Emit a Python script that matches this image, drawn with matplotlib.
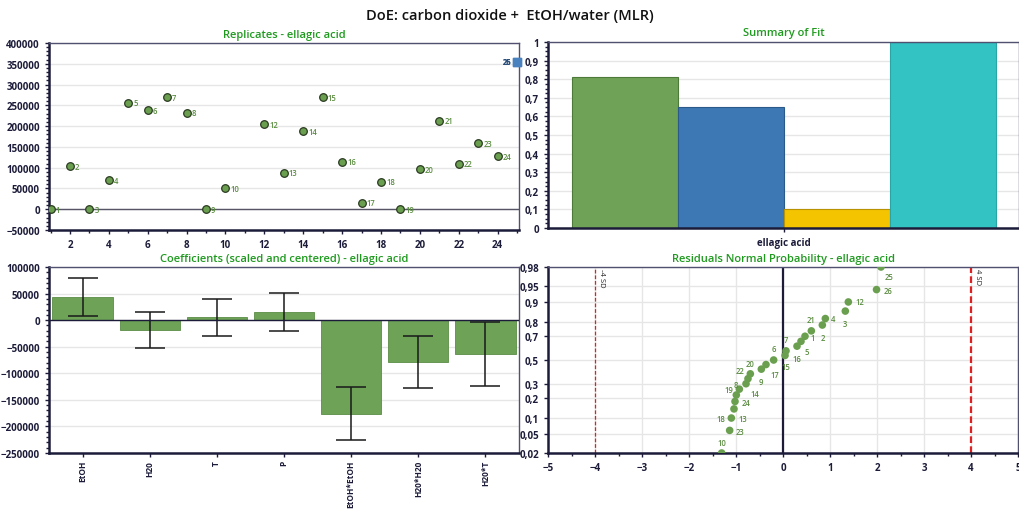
import matplotlib.pyplot as plt
from matplotlib.ticker import MultipleLocator, FuncFormatter, FixedLocator
from statistics import NormalDist
import numpy as np

plt.rcParams['font.family'] = ['Open Sans', 'DejaVu Sans']

# --- data ---
run_ids = [1, 2, 3, 4, 5, 6, 7, 8, 9, 10, 12, 13, 14, 15, 16, 17, 18, 19, 20, 21, 22, 23, 24]
run_values = [0, 104000, 0, 70000, 256000, 238000, 270000, 232000, 0, 50000,
              204000, 88000, 188000, 269000, 114000, 16000, 66000, 0, 96000,
              213000, 110000, 159000, 128000]
rep_ids = [25, 26]
rep_values = [355000, 355000]

fit_names = ['R2', 'Q2', 'Model validity', 'Reproducibility']
fit_values = [0.812, 0.649, 0.102, 1.0]
fit_colors = ['#6fa257', '#3d78b4', '#f5c400', '#33c3c3']
fit_edges = ['#4c7a38', '#2b5a8a', '#b89200', '#2aa5a5']

coef_names = ['EtOH', 'H20', 'T', 'P', 'EtOH*EtOH', 'H20*H20', 'H20*T']
coef_values = [43500, -18500, 5000, 14800, -176000, -78500, -63500]
coef_errors = [36000, 34000, 34000, 36000, 49500, 49500, 59500]

resid_ids = [10, 23, 18, 13, 24, 19, 8, 14, 22, 20, 9, 17, 6, 15, 7, 16, 5, 1, 21, 2, 4, 3, 12, 26, 25]
resid_values = [-1.305, -1.135, -1.099, -1.043, -1.021, -0.993, -0.929, -0.787, -0.745,
                -0.695, -0.461, -0.362, -0.199, 0.043, 0.064, 0.298, 0.383, 0.468,
                0.603, 0.837, 0.901, 1.326, 1.390, 1.990, 2.085]
# label offsets (pixels) for the normal probability plot
resid_offsets = {10: (0, 10), 23: (10, -1), 18: (-10, 0), 13: (9, -10), 24: (11, -1),
                 19: (-7, 5), 8: (-3, 5), 14: (9, -10), 22: (-8, 8), 20: (0, 10),
                 9: (0, -12), 17: (9, -10), 6: (0, 11), 15: (1, -11), 7: (0, 11),
                 16: (0, -12), 5: (6, -10), 1: (8, -1), 21: (0, 11), 2: (0, -12),
                 4: (8, 0), 3: (0, -12), 12: (11, 0), 26: (11, -1), 25: (8, -10)}

green = '#6a9f4f'
title_green = '#1f9a1f'
label_green = '#5a8c40'
dark = '#1c1c3a'
grid_c = '#e6e6e6'


def style_axes(ax):
    for s in ['left', 'bottom']:
        ax.spines[s].set_color(dark)
        ax.spines[s].set_linewidth(1.8)
    for s in ['top', 'right']:
        ax.spines[s].set_color('#505070')
        ax.spines[s].set_linewidth(1.0)
    ax.tick_params(which='both', colors=dark, labelsize=7, length=3, width=1)
    ax.tick_params(which='minor', length=2)
    for lab in ax.get_xticklabels() + ax.get_yticklabels():
        lab.set_fontweight('bold')
    ax.set_axisbelow(True)


fig = plt.figure(figsize=(10.19, 5.10), dpi=100)
W, H = 1019, 510


def add_ax(x0, y0, x1, y1):
    return fig.add_axes([x0 / W, (H - y1) / H, (x1 - x0) / W, (y1 - y0) / H])


fig.text(0.5, 1 - 16 / H, 'DoE: carbon dioxide +  EtOH/water (MLR)', ha='center', va='center',
         fontsize=10.5, fontweight='semibold', color='#111111')

# --- Replicates ---
ax1 = add_ax(49, 44, 519, 231)
ax1.axhline(0, color='#555566', lw=1, zorder=1)
ax1.scatter(run_ids, run_values, s=30, color=green, edgecolors='#2a3a20', linewidths=0.9, zorder=3)
for i, v in zip(run_ids, run_values):
    ax1.annotate(str(i), (i, v), xytext=(5, 0), textcoords='offset pixels', ha='left', va='center',
                 fontsize=5.5, color=label_green, fontweight='semibold')
# replicate runs 25 and 26 are drawn on the right edge (x = 25)
ax1.scatter([25] * len(rep_ids), rep_values, s=30, marker='s', color='#4a82c0', zorder=3, clip_on=False)
for i, v in zip(rep_ids, rep_values):
    ax1.text(24.72, v, str(i), ha='right', va='center', fontsize=5.5, color='#2b4f7a',
             fontweight='bold', zorder=5)
ax1.set_xlim(0.92, 25.1)
ax1.set_ylim(-50000, 400000)
ax1.xaxis.set_major_locator(MultipleLocator(2))
ax1.xaxis.set_minor_locator(MultipleLocator(1))
ax1.yaxis.set_major_locator(MultipleLocator(50000))
ax1.yaxis.set_minor_locator(MultipleLocator(10000))
ax1.yaxis.grid(True, color=grid_c, lw=1)
ax1.set_title('Replicates - ellagic acid', fontsize=8, color=title_green, fontweight='semibold', pad=4)
style_axes(ax1)

# --- Summary of Fit ---
ax2 = add_ax(548, 43, 1019, 229)
pos = np.arange(len(fit_values)) * 0.2 - 0.3
ax2.bar(pos, fit_values, width=0.2, color=fit_colors, edgecolor=fit_edges, linewidth=0.8, zorder=2)
ax2.set_xlim(-0.445, 0.443)
ax2.set_ylim(0, 1)
ax2.set_xticks([0])
ax2.set_xticklabels(['ellagic acid'])
ax2.yaxis.set_major_locator(MultipleLocator(0.1))
ax2.yaxis.set_minor_locator(MultipleLocator(0.025))
ax2.yaxis.set_major_formatter(FuncFormatter(lambda v, p: ('%g' % round(v, 2)).replace('.', ',')))
ax2.yaxis.grid(True, color=grid_c, lw=1)
ax2.set_title('Summary of Fit', fontsize=8, color=title_green, fontweight='semibold', pad=5)
style_axes(ax2)

# --- Coefficients ---
ax3 = add_ax(49, 268, 519, 454)
xc = np.arange(len(coef_names))
ax3.bar(xc, coef_values, width=0.9, color='#6ea256', edgecolor='#5a8c45', linewidth=0.6, zorder=2)
ax3.errorbar(xc, coef_values, yerr=coef_errors, fmt='none', ecolor='#1a1a1a', elinewidth=1.1,
             capsize=10.5, capthick=1.1, zorder=3)
ax3.axhline(0, color=dark, lw=1, zorder=4)
ax3.set_xlim(-0.5, 6.5)
ax3.set_ylim(-250000, 100000)
ax3.set_xticks(xc)
ax3.set_xticklabels(coef_names, rotation=90)
ax3.yaxis.set_major_locator(MultipleLocator(50000))
ax3.yaxis.set_minor_locator(MultipleLocator(10000))
ax3.yaxis.grid(True, color=grid_c, lw=1)
ax3.set_title('Coefficients (scaled and centered) - ellagic acid', fontsize=8, color=title_green,
              fontweight='semibold', pad=4)
style_axes(ax3)
ax3.tick_params(axis='x', labelsize=6, pad=2)

# --- Residuals Normal Probability ---
ax4 = add_ax(548, 268, 1018, 454)
nd = NormalDist()
n = len(resid_values)
order = np.argsort(resid_values)
probs = np.empty(n)
probs[order] = (np.arange(n) + 0.5) / n
zvals = [nd.inv_cdf(p) for p in probs]
ax4.scatter(resid_values, zvals, s=30, color=green, edgecolors='none', zorder=3)
for i, xv, zv in zip(resid_ids, resid_values, zvals):
    dx, dy = resid_offsets[i]
    ax4.annotate(str(i), (xv, zv), xytext=(dx, dy), textcoords='offset pixels', ha='center',
                 va='center', fontsize=5.5, color=label_green, fontweight='semibold')
ax4.axvline(0, color=dark, lw=1.6, zorder=2)
ax4.axvline(-4, color='#e02020', lw=0.9, ls=(0, (3, 1.5)), zorder=2)
ax4.axvline(4, color='#e02020', lw=1.6, ls=(0, (3, 1.5)), zorder=2)
ax4.text(-3.93, 2.03, '-4 SD', rotation=-90, fontsize=5.5, va='top', ha='left', color='#222222')
ax4.text(4.07, 2.03, '4 SD', rotation=-90, fontsize=5.5, va='top', ha='left', color='#222222')
prob_ticks = [0.02, 0.05, 0.1, 0.2, 0.3, 0.5, 0.7, 0.8, 0.9, 0.95, 0.98]
ax4.yaxis.set_major_locator(FixedLocator([nd.inv_cdf(p) for p in prob_ticks]))
ax4.set_yticklabels([('%g' % p).replace('.', ',') for p in prob_ticks])
ax4.set_ylim(nd.inv_cdf(0.02), nd.inv_cdf(0.98))
ax4.set_xlim(-5, 5)
ax4.xaxis.set_major_locator(MultipleLocator(1))
ax4.xaxis.set_minor_locator(MultipleLocator(0.5))
ax4.grid(True, color=grid_c, lw=1)
ax4.set_title('Residuals Normal Probability - ellagic acid', fontsize=8, color=title_green,
              fontweight='semibold', pad=4)
style_axes(ax4)

fig.savefig('out.png', dpi=100)
